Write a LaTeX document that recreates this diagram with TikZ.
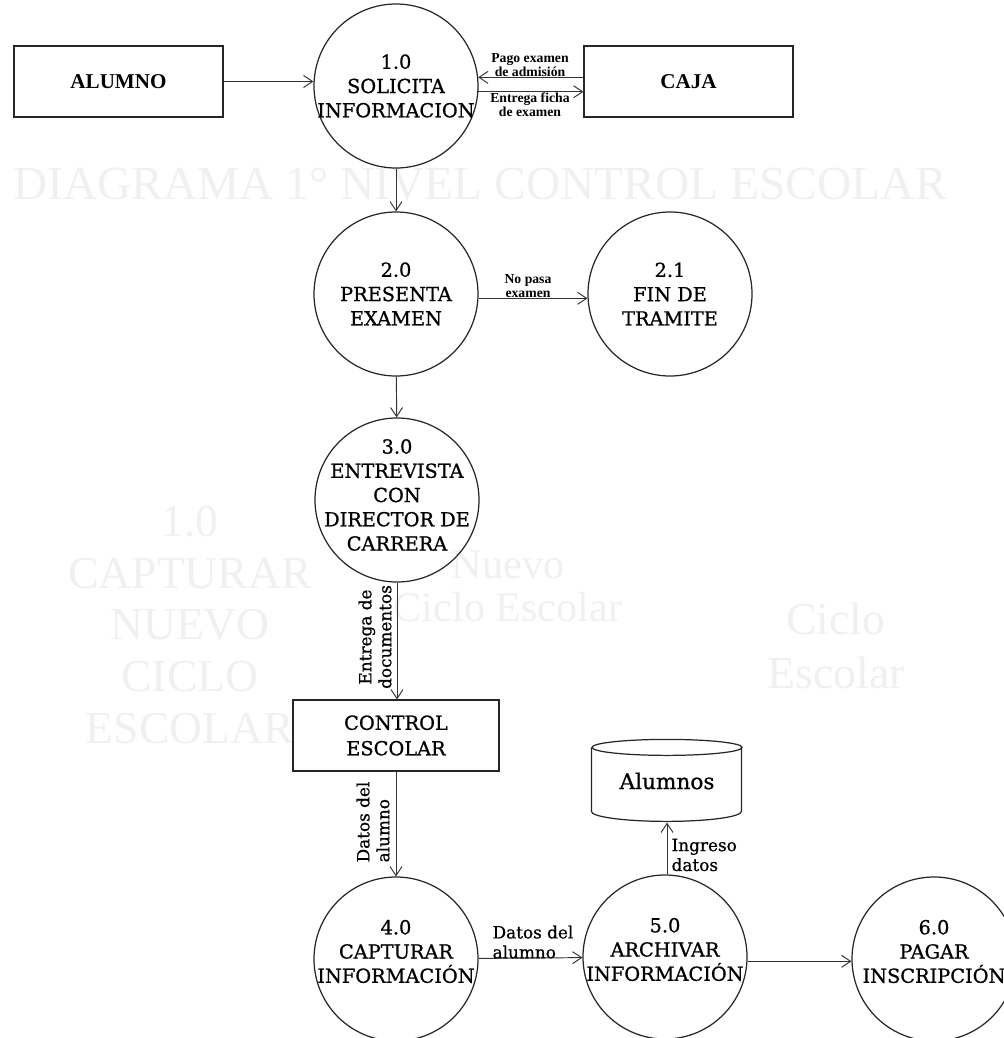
\documentclass[tikz,border=0pt]{standalone}
\usepackage{fontspec}
\setmainfont{DejaVu Serif}
\newfontfamily\scanfont{DejaVu Serif}[FakeBold=0.8]
\newfontfamily\timesfont{Liberation Serif}
\usetikzlibrary{arrows.meta}

\begin{document}
\begin{tikzpicture}[x=0.2mm, y=-0.2mm, line width=0.7pt,
    proc/.style={draw=black!85, circle, inner sep=0pt, minimum size=32.8mm},
    ptext/.style={align=center, inner sep=0pt, font=\scanfont\fontsize{11}{13.8}\selectfont},
    ent/.style={draw=black!85, rectangle, minimum width=41.8mm, minimum height=14.2mm,
        align=center, font=\timesfont\bfseries\fontsize{12}{14.5}\selectfont},
    flow/.style={draw=black!80, line width=0.55pt, -{Straight Barb[length=1.8mm, width=2.4mm]}},
    tiny/.style={align=center, inner sep=0pt, font=\timesfont\bfseries\fontsize{7.8}{8}\selectfont},
    lbl/.style={inner sep=0pt, font=\scanfont\fontsize{9.6}{11.3}\selectfont},
    ghost/.style={text=black!6, align=center, inner sep=0pt}]
            \useasboundingbox (0,0) rectangle (1003,1038);

            % show-through from the back of the sheet
            \node[ghost, font=\timesfont\fontsize{27}{30}\selectfont] (g1) at (480,184) {DIAGRAMA 1° NIVEL CONTROL ESCOLAR};
            \node[ghost, font=\timesfont\fontsize{26}{29.5}\selectfont] (g2) at (190,625) {1.0\\CAPTURAR\\NUEVO\\CICLO\\ESCOLAR};
            \node[ghost, font=\timesfont\fontsize{24}{24.4}\selectfont] (g3) at (508,586) {Nuevo\\Ciclo Escolar};
            \node[ghost, font=\timesfont\fontsize{26}{30.6}\selectfont] (g4) at (836,646) {Ciclo\\Escolar};

            \node[ent] (alumno) at (118.5,81.5) {ALUMNO};
            \node[ent] (caja) at (688.5,81.5) {CAJA};
            \node[ent, font=\scanfont\fontsize{11}{14.5}\selectfont, minimum width=41.2mm] (control) at (396,735.5) {CONTROL\\ESCOLAR};

            \node[proc, label={[ptext]center:{1.0\\SOLICITA\\INFORMACION}}] (sol) at (396,86) {};
            \node[proc, label={[ptext]center:{2.0\\PRESENTA\\EXAMEN}}] (pres) at (396,294) {};
            \node[proc, label={[ptext]center:{2.1\\FIN DE\\TRAMITE}}] (fin) at (670,294) {};
            \node[proc, label={[ptext, yshift=1mm]center:{3.0\\ENTREVISTA\\CON\\DIRECTOR DE\\CARRERA}}] (entr) at (397,500) {};
            \node[proc, label={[ptext, yshift=1.5mm]center:{4.0\\CAPTURAR\\INFORMACIÓN}}] (cap) at (396,959) {};
            \node[proc, label={[ptext, yshift=1.5mm]center:{5.0\\ARCHIVAR\\INFORMACIÓN}}] (arch) at (665,957) {};
            \node[proc, label={[ptext, yshift=1.5mm]center:{6.0\\PAGAR\\INSCRIPCIÓN}}] (pag) at (934,959) {};

            \node[minimum width=30mm, minimum height=16.4mm, inner sep=0pt,
                font=\scanfont\fontsize{12.3}{14}\selectfont] (alumnos) at (667,781) {Alumnos};
            \draw[black!85] (alumnos.north) ++(0,8) ellipse [x radius=15mm, y radius=1.6mm];
            \draw[black!85] (alumnos.north west) ++(0,8) -- ++(0,64)
                arc [start angle=180, end angle=360, x radius=15mm, y radius=2mm] -- ++(0,-64);

            \draw[flow] (alumno.east) -- (alumno.east -| sol.west);
            \draw[flow] (caja.west |- sol.6) -- (sol.6);
            \draw[flow] (sol.-4) -- (sol.-4 -| caja.west);
            \node[tiny] (l1) at (530,65) {Pago examen\\de admisión};
            \node[tiny] (l2) at (530,105) {Entrega ficha\\de examen};

            \draw[flow] (sol) -- (pres);
            \draw[flow] (pres.-3) -- (pres.-3 -| fin.west);
            \node[tiny] (l3) at (528,286) {No pasa\\examen};

            \draw[flow] (pres) -- (entr);
            \draw[flow] (entr.south) -- (entr.south |- control.north);
            \node[lbl, rotate=90, align=center] (l4) at (375,637) {Entrega de\\documentos};

            \draw[flow] (control.south) -- (control.south |- cap.north);
            \node[lbl, rotate=90, align=left] (l5) at (373,822) {Datos del\\alumno};

            \draw[flow] (cap) -- (arch);
            \node[lbl, align=left, anchor=west] (l6) at (492,942) {Datos del\\alumno};

            \draw[flow] (alumnos.south |- arch.north) -- (alumnos.south);
            \node[lbl, align=left, anchor=west] (l7) at (671,855) {Ingreso\\datos};

            \draw[flow] (arch.-3) -- (arch.-3 -| pag.west);

            \end{tikzpicture}
\end{document}
